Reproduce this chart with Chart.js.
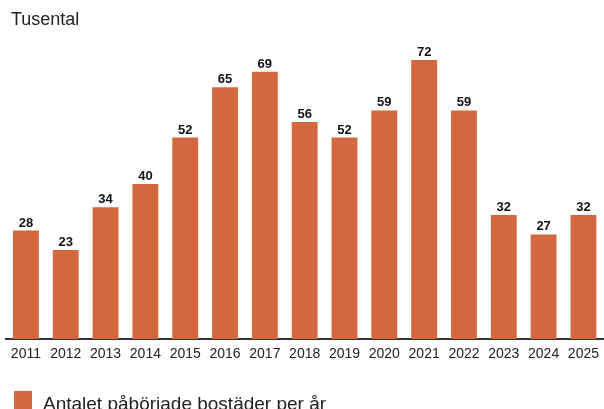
<!DOCTYPE html>
<html>
<head>
<meta charset="utf-8">
<script src="https://cdn.jsdelivr.net/npm/chart.js@4/dist/chart.umd.min.js"></script>
<style>
  html, body { margin: 0; padding: 0; background: #fff; overflow: hidden; }
  #wrap { width: 606px; height: 420px; position: relative; }
</style>
</head>
<body>
<div id="wrap"><canvas id="chart"></canvas></div>
<script>
const years = ['2011', '2012', '2013', '2014', '2015', '2016', '2017', '2018',
               '2019', '2020', '2021', '2022', '2023', '2024', '2025'];
const startedHomes = [28, 23, 34, 40, 52, 65, 69, 56, 52, 59, 72, 59, 32, 27, 32];
const unitLabel = 'Tusental';
const seriesLabel = 'Antalet påbörjade bostäder per år';

const barColor = '#d3683f';
const fontFamily = '"Liberation Sans", Arial, sans-serif';

// unit caption top left, legend entry under the axis
const captions = {
    id: 'captions',
    afterDraw(chart) {
        const ctx = chart.ctx;
        const ds = chart.data.datasets[0];
        ctx.save();
        ctx.fillStyle = '#222';
        ctx.textAlign = 'left';
        ctx.textBaseline = 'alphabetic';
        ctx.font = '18px ' + fontFamily;
        ctx.fillText(unitLabel, 11, 25);

        ctx.fillStyle = ds.backgroundColor;
        ctx.fillRect(14, 391, 18, 18);
        ctx.fillStyle = '#222';
        ctx.font = '19px ' + fontFamily;
        ctx.fillText(ds.label, 43, 410);
        ctx.restore();
    }
};

// value labels on top of each bar
const valueLabels = {
    id: 'valueLabels',
    afterDatasetsDraw(chart) {
        const ctx = chart.ctx;
        const meta = chart.getDatasetMeta(0);
        ctx.save();
        ctx.font = 'bold 13px ' + fontFamily;
        ctx.fillStyle = '#111';
        ctx.textAlign = 'center';
        ctx.textBaseline = 'alphabetic';
        meta.data.forEach((bar, i) => {
            ctx.fillText(startedHomes[i], bar.x, bar.y - 4);
        });
        ctx.restore();
    }
};

new Chart(document.getElementById('chart'), {
    type: 'bar',
    data: {
        labels: years,
        datasets: [{
            label: seriesLabel,
            data: startedHomes,
            backgroundColor: barColor,
            categoryPercentage: 1,
            barPercentage: 0.65
        }]
    },
    options: {
        responsive: true,
        maintainAspectRatio: false,
        animation: false,
        layout: { padding: { left: 6, right: 0, top: 29, bottom: 37 } },
        scales: {
            x: {
                grid: { display: false, drawTicks: false },
                border: { display: true, color: '#333', width: 2 },
                ticks: {
                    color: '#222',
                    font: { family: fontFamily, size: 14 },
                    padding: 7,
                    autoSkip: false,
                    maxRotation: 0
                },
                afterFit(scale) {
                    scale.height = 44;
                }
            },
            y: {
                display: false,
                min: 0,
                max: 80
            }
        },
        plugins: {
            legend: { display: false },
            tooltip: { enabled: false }
        }
    },
    plugins: [valueLabels, captions]
});
</script>
</body>
</html>
